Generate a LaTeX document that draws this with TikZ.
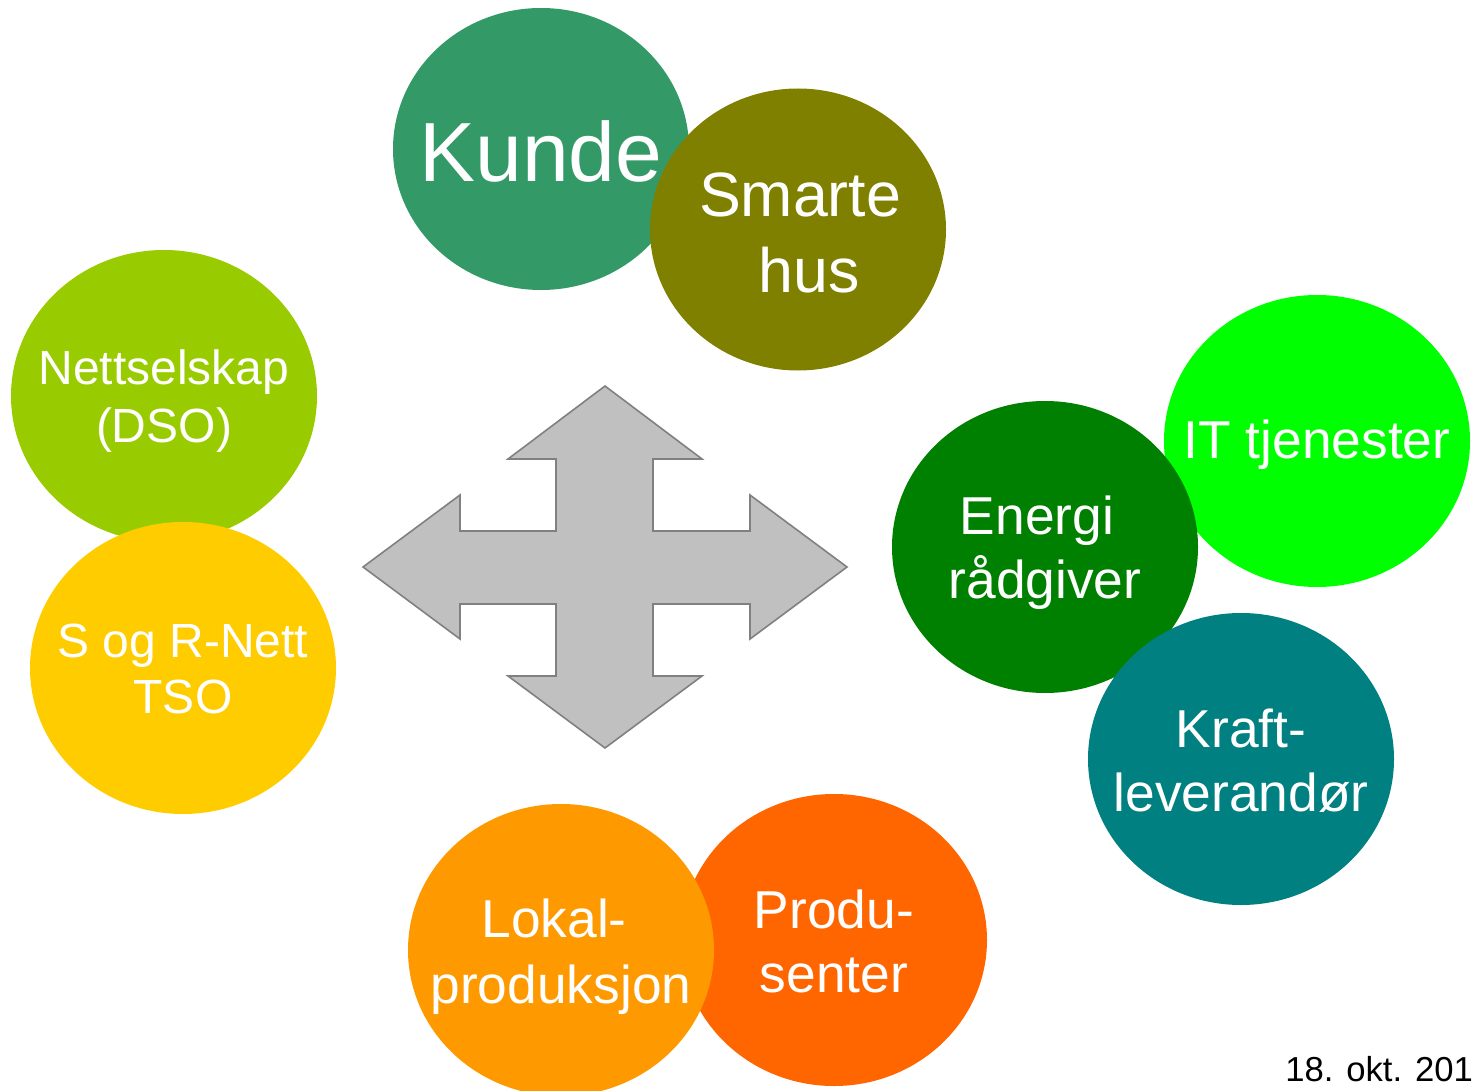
\documentclass[tikz,border=0pt]{standalone}
\usepackage{fontspec}
\setmainfont{Liberation Sans}
\usepackage{tikz}

\definecolor{kundegreen}{HTML}{339966}
\definecolor{husolive}{HTML}{808000}
\definecolor{dsogreen}{HTML}{99CC00}
\definecolor{tsoyellow}{HTML}{FFCC00}
\definecolor{itgreen}{HTML}{00FF00}
\definecolor{energigreen}{HTML}{008000}
\definecolor{krafteal}{HTML}{008080}
\definecolor{lokalorange}{HTML}{FF9900}
\definecolor{produorange}{HTML}{FF6600}
\definecolor{crossfill}{HTML}{C0C0C0}
\definecolor{crossline}{HTML}{808080}

\tikzset{
  bubble/.style={x radius=153, y radius=146},
  smallbubble/.style={x radius=148, y radius=141},
  bubbletext/.style={inner sep=0pt, text=white, align=center,
    font=\fontsize{40}{48}\selectfont}
}

\begin{document}
\begin{tikzpicture}[x=0.75pt,y=0.75pt,yscale=-1,xscale=1]

\useasboundingbox (0,0) rectangle (1474,1091);

% top pair
\fill [kundegreen] (541,149) ellipse [smallbubble];
\node (kunde) [bubbletext, font=\fontsize{63}{70}\selectfont] at (541,151) {Kunde};
\fill [husolive] (798,229.5) ellipse [smallbubble];
\node (hus) [bubbletext, font=\fontsize{47}{57}\selectfont] at (800,233) {Smarte\\\hspace*{14pt}hus};

% left pair
\fill [dsogreen] (164,396) ellipse [bubble];
\node (dso) [bubbletext, font=\fontsize{36}{43.5}\selectfont] at (164,401) {Nettselskap\\(DSO)};
\fill [tsoyellow] (183,668) ellipse [bubble];
\node (tso) [bubbletext, font=\fontsize{36}{42}\selectfont] at (183,669) {S og R-Nett\\TSO};

% right group
\fill [itgreen] (1317,441) ellipse [bubble];
\node (it) [bubbletext] at (1317,445) {IT tjenester};
\fill [energigreen] (1045,547) ellipse [bubble];
\node (energi) [bubbletext] at (1045,553) {Energi\hspace*{12pt}\\rådgiver};
\fill [krafteal] (1241,759) ellipse [bubble];
\node (kraft) [bubbletext] at (1241,761) {Kraft-\\leverandør};

% bottom pair
\fill [produorange] (834,940) ellipse [bubble];
\node (produ) [bubbletext] at (834,941) {Produ-\\senter};
\fill [lokalorange] (561,950) ellipse [bubble];
\node (lokal) [bubbletext, font=\fontsize{40}{49.5}\selectfont] at (561,957) {Lokal-\hspace*{10.5pt}\\produksjon};

% cross arrow
\draw [fill=crossfill, draw=crossline, line width=1.2pt, line join=miter]
  (605,386) -- (702,459) -- (653,459) -- (653,531) -- (750,531) -- (750,495)
  -- (847,567) -- (750,639) -- (750,604) -- (653,604) -- (653,676) -- (702,676)
  -- (605,748) -- (508,676) -- (556,676) -- (556,604) -- (460,604) -- (460,639)
  -- (363,567) -- (460,495) -- (460,531) -- (556,531) -- (556,459) -- (508,459)
  -- cycle;

\node (date) [anchor=base west, inner sep=0pt, font=\fontsize{26}{30}\selectfont] at (1285,1081) {18. okt. 201};

\end{tikzpicture}
\end{document}
